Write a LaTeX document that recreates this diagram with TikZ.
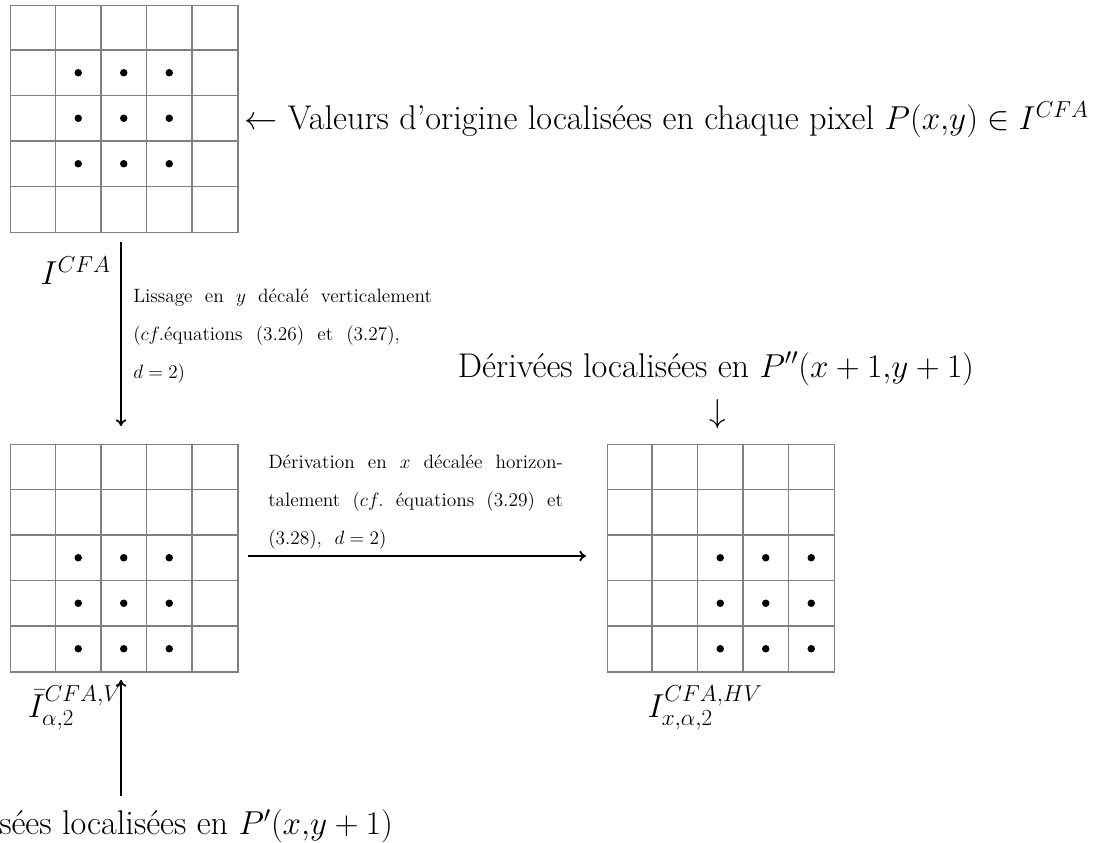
\documentclass[tikz,border=0pt]{standalone}
\usepackage{amsmath}
\usetikzlibrary{arrows.meta}
\begin{document}
\begin{tikzpicture}[x=0.75pt,y=-0.75pt,
  gridline/.style={draw=black!50,line width=0.9pt},
  pixdot/.style={fill=black},
  flow/.style={-{To[length=5pt,width=8pt]},line width=1.3pt},
  bigtxt/.style={font=\fontsize{25.7}{30}\selectfont,inner sep=0pt},
  lbl/.style={font=\fontsize{24}{28}\selectfont,inner sep=0pt},
  smalltxt/.style={font=\fontsize{14.5}{17}\selectfont,inner sep=0pt,anchor=west}]
\useasboundingbox (0,0) rectangle (1108,843);
% grids
\newcommand\pixgrid[3]{%
  \node[gridline,rectangle,minimum width=170.6pt,minimum height=170.6pt,inner sep=0pt,anchor=north west] (#3) at (#1,#2) {};
  \foreach \k in {1,...,4}{%
    \draw[gridline] (#1+\k*45.5,#2) -- (#1+\k*45.5,#2+227.5);
    \draw[gridline] (#1,#2+\k*45.5) -- (#1+227.5,#2+\k*45.5);}%
}
\newcommand\pixdots[4]{% x0 y0 firstcol firstrow
  \foreach \c in {0,1,2}{\foreach \r in {0,1,2}{%
    \fill[pixdot] (#1+#3*45.5+\c*45.5-22.75,#2+#4*45.5+\r*45.5-22.75) circle (2.8pt);}}%
}
\pixgrid{10}{4.5}{g1}
\pixdots{10}{4.5}{2}{2}
\pixgrid{10}{444}{g2}
\pixdots{10}{444}{2}{3}
\pixgrid{606.5}{444}{g3}
\pixdots{606.5}{444}{3}{3}

% top label
\node[bigtxt,anchor=west] (orig) at (244,120) {$\leftarrow$ Valeurs d'origine localisées en chaque pixel $P(x{,}y)\in I^{CFA}$};

% vertical arrow
\coordinate (v1a) at (121,242);
\coordinate (v1b) at (121,426);
\draw[flow] (v1a) -- (v1b);
\node[lbl,anchor=east] (icfa) at (111,271) {$I^{CFA}$};
\node[smalltxt] (s1) at (133,298) {\makebox[224pt][s]{Lissage en $y$ décalé verticalement}};
\node[smalltxt] (s2) at (133,336) {\makebox[200pt][s]{($cf.$équations (3.26) et (3.27),}};
\node[smalltxt] (s3) at (133,374) {$d=2$)};

% horizontal arrow
\coordinate (h1a) at (248,556);
\coordinate (h1b) at (586,556);
\draw[flow] (h1a) -- (h1b);
\node[smalltxt] (t1) at (268,462) {\makebox[221pt][s]{Dérivation en $x$ décalée horizon-}};
\node[smalltxt] (t2) at (268,502) {\makebox[221pt][s]{talement ($cf.$ équations (3.29) et}};
\node[smalltxt] (t3) at (268,540) {(3.28),\ \ $d=2$)};

% right label
\node[bigtxt,anchor=base] (deriv) at (716,377) {Dérivées localisées en $P''(x+1{,}y+1)$};
\node[bigtxt] (darr) at (718,414) {$\downarrow$};

% bottom labels
\node[lbl] (ibar) at (75,708) {$\bar{I}_{\alpha,2}^{CFA,V}$};
\node[lbl] (ihv) at (705,708) {$I_{x,\alpha,2}^{CFA,HV}$};

% up arrow
\coordinate (u1a) at (121,796);
\coordinate (u1b) at (121,680);
\draw[flow] (u1a) -- (u1b);
\node[bigtxt,anchor=west] (lisse) at (-1,826) {sées localisées en $P'(x{,}y+1)$};
\end{tikzpicture}
\end{document}
